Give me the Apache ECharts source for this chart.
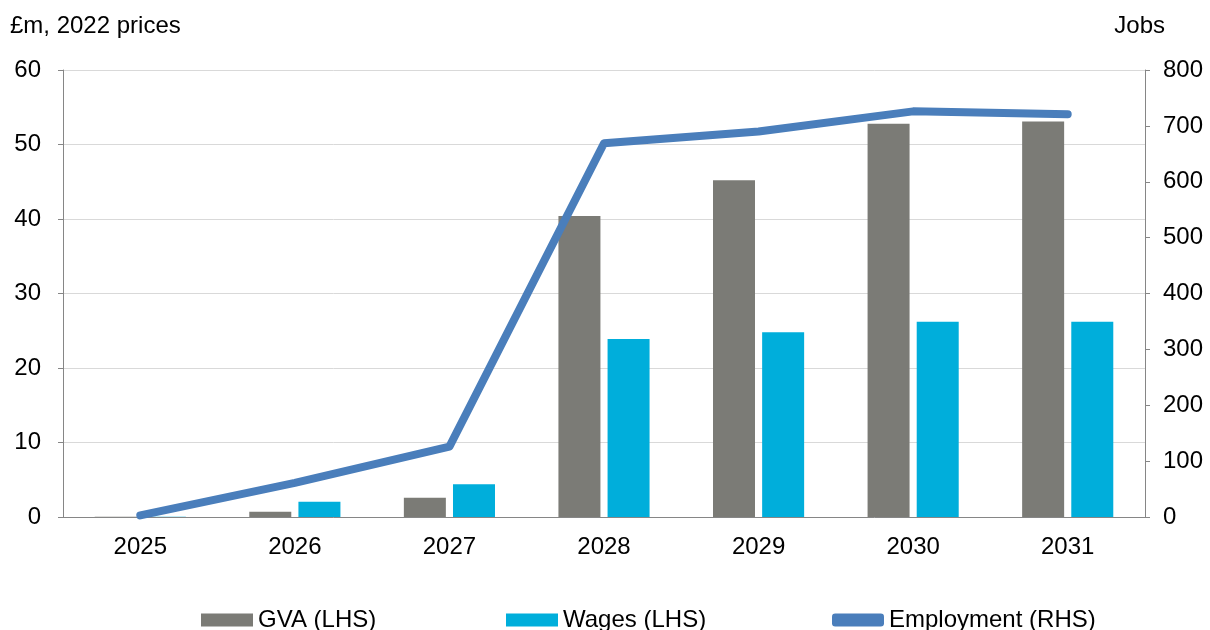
<!DOCTYPE html>
<html>
<head>
<meta charset="utf-8">
<script src="https://cdn.jsdelivr.net/npm/echarts@6/dist/echarts.min.js"></script>
<style>
html,body{margin:0;padding:0;background:#fff;}
#chart{width:1210px;height:630px;}
</style>
</head>
<body>
<div id="chart"></div>
<script>
const years = ['2025','2026','2027','2028','2029','2030','2031'];
const gva = [0.05, 0.7, 2.6, 40.4, 45.2, 52.8, 53.1];
const wages = [0.05, 2.05, 4.4, 23.9, 24.8, 26.2, 26.2];
const employment = [3, 61, 126, 669, 690, 726, 721];
const leftTicks = {min: 0, max: 60, interval: 10};
const rightTicks = {min: 0, max: 800, interval: 100};

const font = '"Liberation Sans", Arial, sans-serif';
const fs = 24;
function legendAt(left, name, icon) {
  return {
    bottom: -2, left: left, padding: 0,
    itemWidth: 52, itemHeight: 13,
    textStyle: {fontFamily: font, fontSize: fs, color: '#000'},
    data: [{name: name, icon: icon}]
  };
}
const chart = echarts.init(document.getElementById('chart'));
chart.setOption({
  animation: false,
  backgroundColor: '#fff',
  textStyle: {fontFamily: font, color: '#000'},
  grid: {left: 63, right: 65, top: 70, bottom: 113, containLabel: false},
  graphic: [
    {type: 'text', left: 10, top: 14, style: {text: '£m, 2022 prices', font: fs + 'px ' + font, fill: '#000'}},
    {type: 'text', right: 45, top: 14, style: {text: 'Jobs', font: fs + 'px ' + font, fill: '#000'}}
  ],
  legend: [
    legendAt(201, 'GVA (LHS)', 'rect'),
    legendAt(506, 'Wages (LHS)', 'rect'),
    legendAt(832, 'Employment (RHS)', 'roundRect')
  ],
  xAxis: {
    type: 'category', data: years,
    axisLine: {lineStyle: {color: '#868686', width: 1}},
    axisTick: {show: false},
    axisLabel: {fontFamily: font, fontSize: fs, color: '#000', margin: 18}
  },
  yAxis: [
    {
      type: 'value', min: leftTicks.min, max: leftTicks.max, interval: leftTicks.interval,
      axisLine: {show: true, lineStyle: {color: '#868686'}},
      axisTick: {show: true, length: 5, lineStyle: {color: '#868686'}},
      axisLabel: {fontFamily: font, fontSize: fs, color: '#000', margin: 22},
      splitLine: {lineStyle: {color: '#d9d9d9', width: 1}}
    },
    {
      type: 'value', min: rightTicks.min, max: rightTicks.max, interval: rightTicks.interval,
      position: 'right',
      axisLine: {show: true, lineStyle: {color: '#868686'}},
      axisTick: {show: true, length: 5, lineStyle: {color: '#868686'}},
      axisLabel: {fontFamily: font, fontSize: fs, color: '#000', margin: 18},
      splitLine: {show: false}
    }
  ],
  series: [
    {name: 'GVA (LHS)', type: 'bar', data: gva, barWidth: 42, barGap: '17%',
     itemStyle: {color: '#7b7b76'}},
    {name: 'Wages (LHS)', type: 'bar', data: wages, barWidth: 42,
     itemStyle: {color: '#00aedb'}},
    {name: 'Employment (RHS)', type: 'line', yAxisIndex: 1, data: employment,
     symbol: 'none', z: 5,
     lineStyle: {color: '#4a7ebb', width: 8, cap: 'round', join: 'round'},
     itemStyle: {color: '#4a7ebb'}}
  ]
});
</script>
</body>
</html>
